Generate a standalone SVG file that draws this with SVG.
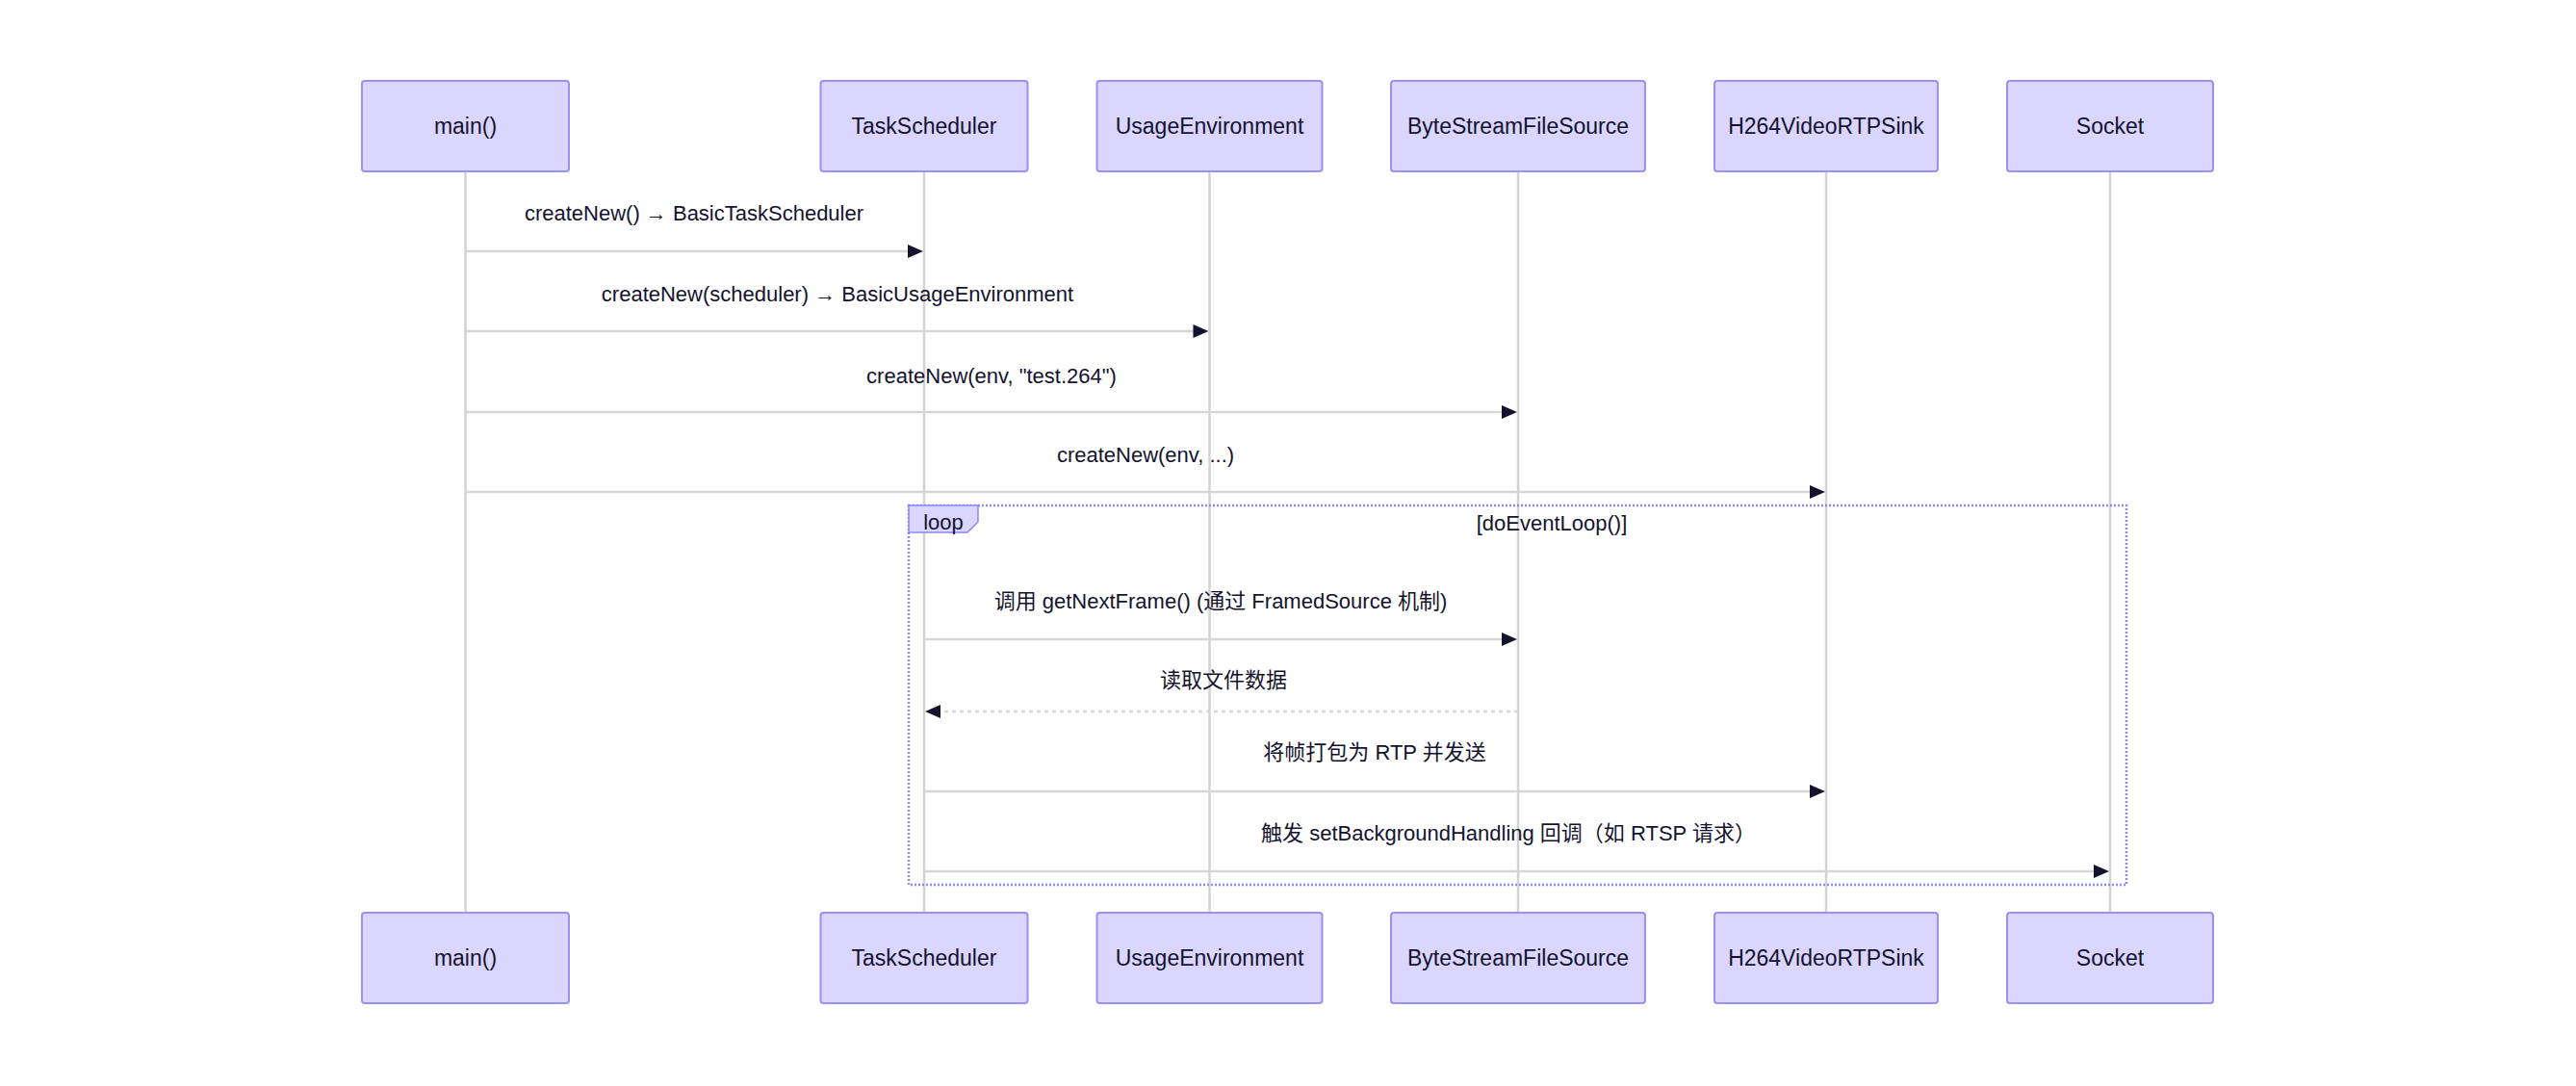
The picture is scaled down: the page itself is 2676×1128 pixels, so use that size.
<svg xmlns="http://www.w3.org/2000/svg" width="2676" height="1128" viewBox="0 0 2676 1128">
<style>
.actor{fill:#DAD6FF;stroke:#9A91F4;stroke-width:2}
.atext{font-family:"Liberation Sans","Noto Sans CJK SC",sans-serif;font-size:23px;fill:#14132E;text-anchor:middle;dominant-baseline:central}
.life{stroke:#D3D3D3;stroke-width:2.5}
.msg{stroke:#D6D6D6;stroke-width:2.5;fill:none}
.dash{stroke-dasharray:4,4}
.mtext{font-family:"Liberation Sans","Noto Sans CJK SC",sans-serif;font-size:22px;fill:#14132E;text-anchor:middle;dominant-baseline:central}
.head{fill:#14132E}
.loop{fill:none;stroke:#8E86F2;stroke-width:2.5;stroke-dasharray:2,2}
.looplab{fill:#DAD6FF;stroke:#8E86F2;stroke-width:1.5}
</style>
<rect width="2676" height="1128" fill="#FFFFFF"/>
<g id="lifelines">
<line class="life" x1="483.5" y1="178" x2="483.5" y2="948"/>
<line class="life" x1="960" y1="178" x2="960" y2="948"/>
<line class="life" x1="1256.5" y1="178" x2="1256.5" y2="948"/>
<line class="life" x1="1577" y1="178" x2="1577" y2="948"/>
<line class="life" x1="1897" y1="178" x2="1897" y2="948"/>
<line class="life" x1="2192" y1="178" x2="2192" y2="948"/>
</g>
<g id="main">
<rect class="actor" x="376" y="84" width="215" height="94" rx="3"/>
<text class="atext" x="483.5" y="131">main()</text>
<rect class="actor" x="376" y="948" width="215" height="94" rx="3"/>
<text class="atext" x="483.5" y="995">main()</text>
</g>
<g id="TaskScheduler">
<rect class="actor" x="852.5" y="84" width="215" height="94" rx="3"/>
<text class="atext" x="960" y="131">TaskScheduler</text>
<rect class="actor" x="852.5" y="948" width="215" height="94" rx="3"/>
<text class="atext" x="960" y="995">TaskScheduler</text>
</g>
<g id="UsageEnvironment">
<rect class="actor" x="1139.5" y="84" width="234" height="94" rx="3"/>
<text class="atext" x="1256.5" y="131">UsageEnvironment</text>
<rect class="actor" x="1139.5" y="948" width="234" height="94" rx="3"/>
<text class="atext" x="1256.5" y="995">UsageEnvironment</text>
</g>
<g id="ByteStreamFileSource">
<rect class="actor" x="1445" y="84" width="264" height="94" rx="3"/>
<text class="atext" x="1577" y="131">ByteStreamFileSource</text>
<rect class="actor" x="1445" y="948" width="264" height="94" rx="3"/>
<text class="atext" x="1577" y="995">ByteStreamFileSource</text>
</g>
<g id="H264VideoRTPSink">
<rect class="actor" x="1781" y="84" width="232" height="94" rx="3"/>
<text class="atext" x="1897" y="131">H264VideoRTPSink</text>
<rect class="actor" x="1781" y="948" width="232" height="94" rx="3"/>
<text class="atext" x="1897" y="995">H264VideoRTPSink</text>
</g>
<g id="Socket">
<rect class="actor" x="2085" y="84" width="214" height="94" rx="3"/>
<text class="atext" x="2192" y="131">Socket</text>
<rect class="actor" x="2085" y="948" width="214" height="94" rx="3"/>
<text class="atext" x="2192" y="995">Socket</text>
</g>
<g id="loop">
<rect class="loop" x="944" y="525" width="1265" height="394"/>
<polygon class="looplab" points="944,525 1016,525 1016,542 1005,553 944,553"/>
<text class="mtext" x="980" y="542">loop</text>
<text class="mtext" x="1612" y="543">[doEventLoop()]</text>
</g>
<g id="connectors">
<line class="msg" x1="483.5" y1="261" x2="945" y2="261"/>
<polygon class="head" points="959,261 943,254 943,268"/>
<text class="mtext" x="721" y="221">createNew() → BasicTaskScheduler</text>
<line class="msg" x1="483.5" y1="344" x2="1242" y2="344"/>
<polygon class="head" points="1255.5,344 1239.5,337 1239.5,351"/>
<text class="mtext" x="870" y="305">createNew(scheduler) → BasicUsageEnvironment</text>
<line class="msg" x1="483.5" y1="428" x2="1562" y2="428"/>
<polygon class="head" points="1576,428 1560,421 1560,435"/>
<text class="mtext" x="1030" y="390">createNew(env, "test.264")</text>
<line class="msg" x1="483.5" y1="511" x2="1882" y2="511"/>
<polygon class="head" points="1896,511 1880,504 1880,518"/>
<text class="mtext" x="1190" y="472">createNew(env, ...)</text>
<line class="msg" x1="960" y1="664" x2="1562" y2="664"/>
<polygon class="head" points="1576,664 1560,657 1560,671"/>
<text class="mtext" x="1268" y="624">调用 getNextFrame() (通过 FramedSource 机制)</text>
<line class="msg dash" x1="1577" y1="739" x2="975" y2="739"/>
<polygon class="head" points="961,739 977,732 977,746"/>
<text class="mtext" x="1271" y="706">读取文件数据</text>
<line class="msg" x1="960" y1="822" x2="1882" y2="822"/>
<polygon class="head" points="1896,822 1880,815 1880,829"/>
<text class="mtext" x="1428" y="781">将帧打包为 RTP 并发送</text>
<line class="msg" x1="960" y1="905" x2="2177" y2="905"/>
<polygon class="head" points="2191,905 2175,898 2175,912"/>
<text class="mtext" x="1567" y="865">触发 setBackgroundHandling 回调（如 RTSP 请求）</text>
</g>
</svg>
